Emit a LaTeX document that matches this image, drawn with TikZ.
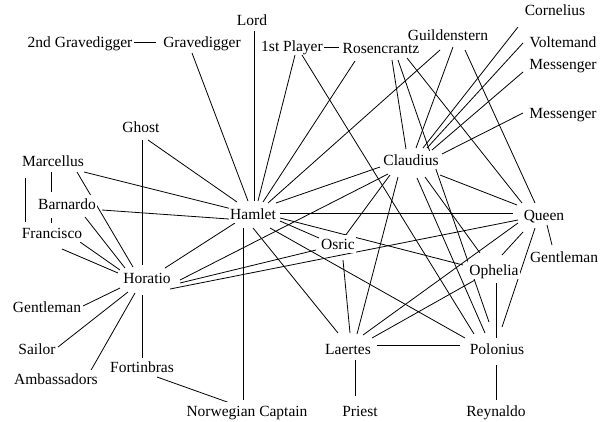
\documentclass[tikz,border=0pt]{standalone}
\usepackage{fontspec}
\setmainfont{Liberation Serif}
\newfontfamily\lblfont{Liberation Serif}
\usetikzlibrary{backgrounds}
\newcommand\ed[6]{\draw ([shift={(#2,#3)}]#1.center) -- ([shift={(#5,#6)}]#4.center);}
\begin{document}
\begin{tikzpicture}[x=1pt,y=-1pt,
  lbl/.style={fill=white,inner xsep=1.5pt,inner ysep=1pt,text height=13pt,text depth=2.6pt,
    font=\lblfont\fontsize{15.5}{18}\selectfont},
  every path/.style={line width=0.8pt}]
\useasboundingbox (0,0) rectangle (605,421);
\node[lbl] (Lord) at (252,20) {Lord};
\node[lbl] (GTwo) at (80,42) {2nd Gravedigger};
\node[lbl] (Grave) at (202,42) {Gravedigger};
\node[lbl] (Player) at (292,46) {1st Player};
\node[lbl] (Ros) at (381,48) {Rosencrantz};
\node[lbl] (Guil) at (448,35) {Guildenstern};
\node[lbl] (Corn) at (555,10) {Cornelius};
\node[lbl] (Volt) at (563,42) {Voltemand};
\node[lbl] (MessA) at (563,64) {Messenger};
\node[lbl] (MessB) at (563,113) {Messenger};
\node[lbl] (Ghost) at (141,127) {Ghost};
\node[lbl] (Claud) at (411,160) {Claudius};
\node[lbl] (Marc) at (53,161) {Marcellus};
\node[lbl] (Barn) at (67,204) {Barnardo};
\node[lbl] (Ham) at (253,214) {Hamlet};
\node[lbl] (Queen) at (544,215) {Queen};
\node[lbl] (Fran) at (52,233) {Francisco};
\node[lbl] (Osric) at (338,244) {Osric};
\node[lbl] (GentR) at (564,257) {Gentleman};
\node[lbl] (Hor) at (147,278) {Horatio};
\node[lbl] (Oph) at (494,270) {Ophelia};
\node[lbl] (GentL) at (47,307) {Gentleman};
\node[lbl] (Sailor) at (37,349) {Sailor};
\node[lbl] (Laer) at (348,349) {Laertes};
\node[lbl] (Pol) at (497,349) {Polonius};
\node[lbl] (Fort) at (142,367) {Fortinbras};
\node[lbl] (Amb) at (56,379) {Ambassadors};
\node[lbl] (NorC) at (247,411) {Norwegian Captain};
\node[lbl] (Priest) at (360,411) {Priest};
\node[lbl] (Rey) at (496,411) {Reynaldo};
\begin{scope}[on background layer]
\ed{GTwo}{54}{0}{Grave}{-46}{0}
\ed{Grave}{-10}{11}{Ham}{-5}{-13}
\ed{Lord}{2}{11}{Ham}{1}{-13}
\ed{Player}{3}{9}{Ham}{5}{-13}
\ed{Player}{32}{1}{Ros}{-42}{-1}
\ed{Player}{10}{9}{Pol}{-23}{-15}
\ed{Ros}{-26}{13}{Ham}{10}{-12}
\ed{Ros}{11}{12}{Claud}{-5}{-11}
\ed{Ros}{17}{12}{Pol}{-8}{-27}
\ed{Ros}{26}{10}{Queen}{-22}{-12}
\ed{Guil}{-8}{15}{Ham}{15}{-11}
\ed{Guil}{5}{12}{Claud}{5}{-12}
\ed{Guil}{17}{15}{Queen}{-9}{-12}
\ed{Corn}{-37}{17}{Claud}{12}{-12}
\ed{Volt}{-40}{1}{Claud}{16}{-12}
\ed{MessA}{-40}{8}{Claud}{21}{-10}
\ed{MessB}{-40}{0}{Claud}{31}{-6}
\ed{Ghost}{7}{13}{Ham}{-16}{-12}
\ed{Ghost}{1}{13}{Hor}{-5}{-13}
\ed{Marc}{31}{11}{Ham}{-17}{-4}
\ed{Marc}{-2}{11}{Barn}{-16}{-12}
\ed{Barn}{-16}{14}{Fran}{-1}{-10}
\ed{Marc}{-28}{17}{Fran}{-27}{-11}
\ed{Marc}{24}{11}{Hor}{-14}{-11}
\ed{Barn}{35}{6}{Ham}{-24}{5}
\ed{Barn}{18}{13}{Hor}{-22}{-10}
\ed{Fran}{28}{9}{Hor}{-27}{-8}
\ed{Fran}{10}{16}{Hor}{-29}{-5}
\ed{Ham}{-18}{9}{Hor}{18}{-10}
\ed{Claud}{-23}{14}{Hor}{33}{2}
\ed{Osric}{-22}{6}{Hor}{33}{5}
\ed{Queen}{-26}{5}{Hor}{23}{11}
\ed{Ham}{23}{-11}{Claud}{-31}{7}
\ed{Ham}{27}{-1}{Queen}{-31}{-2}
\ed{Ham}{27}{7}{Osric}{-19}{-6}
\ed{Ham}{27}{4}{Oph}{-31}{-5}
\ed{Ham}{17}{14}{Pol}{-32}{-11}
\ed{Ham}{0}{14}{Laer}{-10}{-16}
\ed{Ham}{-10}{14}{NorC}{-4}{-11}
\ed{Claud}{-21}{15}{Osric}{7}{-8}
\ed{Claud}{-13}{17}{Laer}{9}{-15}
\ed{Claud}{6}{18}{Pol}{-12}{-16}
\ed{Claud}{14}{17}{Oph}{-14}{-17}
\ed{Claud}{29}{15}{Queen}{-27}{-10}
\ed{Osric}{5}{16}{Laer}{2}{-16}
\ed{Laer}{7}{11}{Priest}{-5}{-15}
\ed{Laer}{29}{-4}{Pol}{-37}{-4}
\ed{Laer}{15}{-14}{Queen}{-26}{8}
\ed{Laer}{24}{-11}{Oph}{-19}{10}
\ed{Oph}{2}{13}{Pol}{-1}{-11}
\ed{Oph}{8}{-15}{Queen}{-21}{17}
\ed{Queen}{-9}{13}{Pol}{5}{-22}
\ed{Queen}{3}{10}{GentR}{-12}{-12}
\ed{Hor}{-27}{10}{GentL}{36}{-1}
\ed{Hor}{-19}{14}{Sailor}{21}{-2}
\ed{Hor}{-12}{15}{Amb}{34}{-7}
\ed{Hor}{-5}{17}{Fort}{0}{-7}
\ed{Fort}{15}{10}{NorC}{-17}{-8}
\ed{Pol}{-1}{16}{Rey}{0}{-11}
\end{scope}
\end{tikzpicture}
\end{document}
